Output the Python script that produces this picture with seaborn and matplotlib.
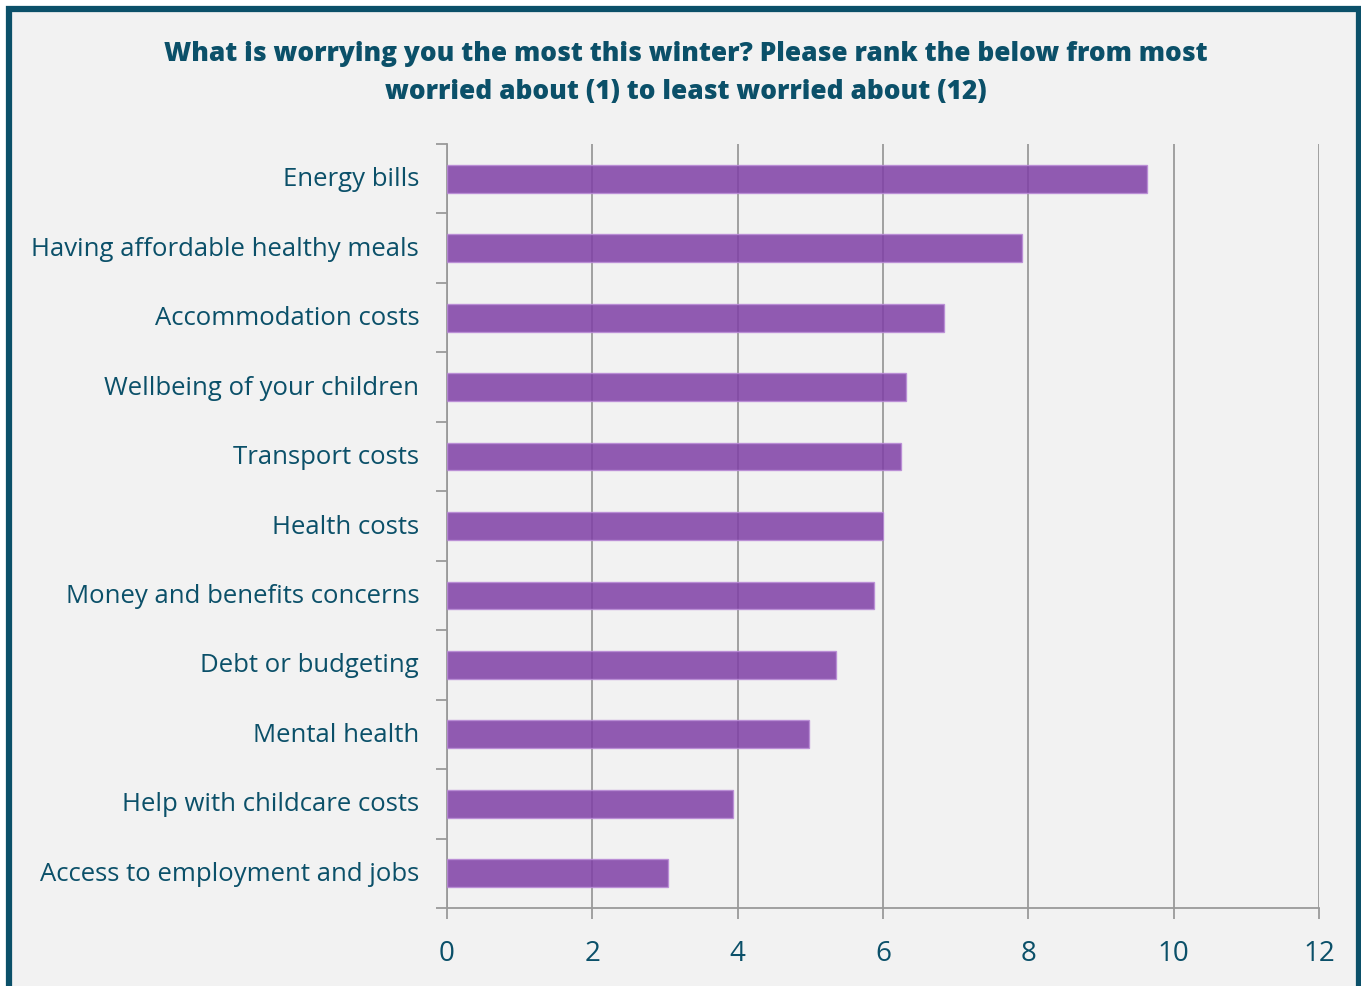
import matplotlib
matplotlib.use("Agg")
import matplotlib.pyplot as plt
from matplotlib.patches import Rectangle
import seaborn as sns
import pandas as pd

categories = [
    "Energy bills",
    "Having affordable healthy meals",
    "Accommodation costs",
    "Wellbeing of your children",
    "Transport costs",
    "Health costs",
    "Money and benefits concerns",
    "Debt or budgeting",
    "Mental health",
    "Help with childcare costs",
    "Access to employment and jobs",
]
scores = [9.63, 7.91, 6.84, 6.32, 6.25, 6.00, 5.87, 5.35, 4.98, 3.94, 3.04]
x_ticks = [0, 2, 4, 6, 8, 10, 12]

df = pd.DataFrame({"item": categories, "score": scores})

TEXT = "#0b5069"
BG = "#f2f2f2"
BAR = "#7f3fa6"
GRID = "#9a9a9a"

sns.set_theme(style="white")
plt.rcParams["font.family"] = ["Open Sans", "DejaVu Sans"]

W, H = 1361, 987
fig = plt.figure(figsize=(W / 100, H / 100), dpi=100, facecolor="white")

# framed panel behind everything
fig.patches.append(Rectangle((9 / W, -0.05), (1359 - 9) / W, 1 - 10 / H + 0.05,
                             transform=fig.transFigure, facecolor=BG,
                             edgecolor=TEXT, linewidth=4.5, zorder=-10))

ax = fig.add_axes([447 / W, 1 - 909 / H, (1319 - 447) / W, (909 - 145) / H])
ax.set_zorder(1)
ax.patch.set_alpha(0)

sns.barplot(data=df, x="score", y="item", orient="h", color=BAR, width=0.4,
            saturation=1, alpha=0.85, edgecolor="#b98ad6", linewidth=1.0,
            ax=ax, zorder=3)

ax.set_xlim(0, 12)
ax.set_ylim(len(categories) - 0.5, -0.5)
ax.set_xticks(x_ticks)
ax.set_xticklabels([str(t) for t in x_ticks])
ax.set_xlabel("")
ax.set_ylabel("")

ax.xaxis.grid(True, color=GRID, linewidth=1.3, zorder=1)
ax.set_axisbelow(True)

for side in ["top", "right"]:
    ax.spines[side].set_visible(False)
for side in ["left", "bottom"]:
    ax.spines[side].set_color(GRID)
    ax.spines[side].set_linewidth(1.3)

# category boundary ticks on the y axis
ax.set_yticks([i - 0.5 for i in range(len(categories) + 1)], minor=False)
ax.set_yticklabels([""] * (len(categories) + 1))
ax.set_yticks(range(len(categories)), minor=True)
ax.set_yticklabels(categories, minor=True)
ax.tick_params(axis="y", which="major", left=True, length=8, width=1.3,
               color=GRID)
ax.tick_params(axis="y", which="minor", left=False, length=0, pad=20,
               labelsize=18.5, labelcolor=TEXT)
for lbl in ax.get_yticklabels(minor=True):
    lbl.set_verticalalignment("center")
ax.tick_params(axis="x", bottom=True, length=8, width=1.3, color=GRID,
               pad=14, labelsize=20, labelcolor=TEXT)

fig.text(686 / W, 1 - 73 / H,
         "What is worrying you the most this winter? Please rank the below from most\n"
         "worried about (1) to least worried about (12)",
         ha="center", va="center", fontsize=18.9, fontweight="heavy",
         color=TEXT, linespacing=1.6)

fig.savefig("out.png", dpi=100, facecolor="white")
